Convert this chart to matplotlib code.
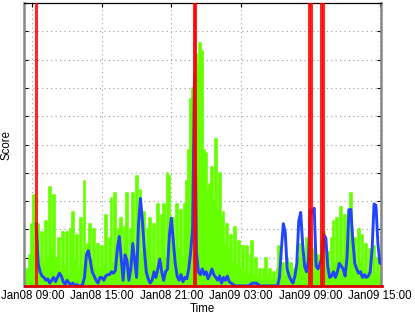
import numpy as np
import pandas as pd
import matplotlib
matplotlib.use("Agg")
import matplotlib.pyplot as plt
import matplotlib.dates as mdates

plt.rcParams['font.family'] = ['Liberation Sans', 'DejaVu Sans']

# 10-minute scores, Jan08 08:20 -> Jan09 15:10
green_start = "2014-01-08 08:20"
green_scores = [
    0.5, 0.6, 0.3, 1.1, 2.2, 3.2, 1.2, 2.2, 0.9, 1.9,
    0.8, 2.3, 1.0, 3.5, 1.3, 3.2, 1.0, 0.7, 1.7, 0.5,
    1.9, 0.7, 1.9, 0.4, 2.0, 2.6, 0.9, 1.8, 0.6, 2.4,
    0.7, 3.7, 0.8, 1.5, 2.2, 0.9, 2.0, 0.6, 1.5, 0.6,
    1.4, 0.7, 2.5, 0.6, 1.7, 3.1, 0.8, 3.3, 0.9, 2.0,
    2.4, 0.8, 2.1, 3.3, 1.0, 2.0, 3.3, 1.1, 3.9, 1.5,
    3.4, 1.2, 2.6, 1.3, 2.0, 2.4, 0.8, 2.2, 0.7, 2.9,
    1.0, 2.5, 2.9, 1.0, 4.0, 3.9, 1.6, 2.4, 1.2, 2.9,
    1.3, 2.7, 1.0, 2.9, 3.7, 4.8, 6.6, 7.0, 7.6, 8.2,
    7.8, 8.6, 8.3, 4.8, 4.7, 3.4, 3.6, 4.2, 3.0, 5.2,
    2.6, 4.0, 2.4, 2.6, 1.5, 2.2, 1.3, 1.8, 0.8, 2.1,
    0.7, 1.6, 0.6, 1.4, 0.5, 1.4, 0.4, 1.1, 1.6, 0.4,
    1.0, 0.3, 0.6, 0.2, 0.6, 1.0, 0.3, 0.6, 0.2, 0.5,
    0.2, 0.6, 1.4, 0.4, 0.8, 0.3, 1.0, 0.2, 0.8, 0.3,
    0.6, 0.7, 1.0, 1.5, 0.7, 1.0, 1.7, 1.5, 2.0, 1.3,
    1.2, 0.5, 1.1, 0.5, 1.6, 1.9, 0.6, 1.2, 0.6, 1.7,
    2.3, 0.8, 2.4, 0.8, 2.8, 1.0, 2.5, 0.9, 2.7, 3.3,
    1.0, 1.7, 0.7, 2.0, 0.8, 1.8, 0.6, 1.5, 0.5, 1.3,
    0.5, 1.4, 0.4, 1.0, 0.4, 0.8,
]

blue_start = "2014-01-08 09:20"
blue_scores = [
    2.2, 0.8, 0.5, 0.35, 0.3, 0.2, 0.25, 0.1, 0.2, 0.3,
    0.15, 0.3, 0.45, 0.35, 0.15, 0.05, 0.2, 0.1, 0.05, 0.1,
    0.0, 0.05, 0.0, 0.0, 0.05, 0.3, 1.1, 1.25, 0.9, 0.5,
    0.35, 0.2, 0.1, 0.3, 0.3, 0.2, 0.35, 0.4, 0.4, 0.5,
    0.45, 0.55, 1.3, 1.75, 1.0, 0.2, 1.1, 0.9, 0.2, 0.6,
    1.5, 0.9, 0.3, 2.2, 3.1, 2.3, 1.3, 0.5, 0.25, 0.1,
    0.2, 0.5, 0.3, 0.6, 0.95, 0.5, 0.2, 0.5, 0.6, 1.8,
    2.4, 1.6, 0.8, 0.35, 0.2, 0.4, 0.15, 0.3, 0.25, 0.6,
    1.2, 2.0, 7.4, 1.2, 0.5, 0.4, 0.6, 0.4, 0.5, 0.25,
    0.4, 0.6, 0.4, 0.3, 0.2, 0.35, 0.1, 0.3, 0.2, 0.35,
    0.15, 0.1, 0.05, 0.0, 0.0, 0.0, 0.0, 0.0, 0.0, 0.0,
    0.0, 0.05, 0.1, 0.1, 0.1, 0.05, 0.0, 0.0, 0.0, 0.0,
    0.0, 0.0, 0.0, 0.0, 0.0, 0.0, 0.3, 1.3, 2.2, 1.9,
    0.6, 0.35, 0.2, 0.1, 0.35, 0.8, 2.3, 2.6, 1.5, 0.7,
    0.5, 0.9, 2.7, 2.6, 2.75, 0.7, 0.6, 0.8, 1.0, 1.8,
    1.7, 0.7, 0.3, 0.35, 0.5, 0.3, 0.5, 0.8, 0.7, 0.6,
    0.35, 1.0, 2.7, 2.7, 1.6, 0.8, 0.6, 0.45, 0.5, 0.3,
    0.4, 0.3, 0.35, 0.5, 1.3, 2.9, 2.85, 1.5, 0.8, 0.8,
]

anomaly_times = [
    "2014-01-08 09:19", "2014-01-08 22:55", "2014-01-08 23:05",
    "2014-01-09 08:55", "2014-01-09 09:05", "2014-01-09 09:55",
    "2014-01-09 10:08",
]

t_green = pd.date_range(green_start, periods=len(green_scores), freq="10min")
t_blue = pd.date_range(blue_start, periods=len(blue_scores), freq="10min")
t_anom = pd.to_datetime(anomaly_times)

fig = plt.figure(figsize=(4.15, 3.22), dpi=100)
ax = fig.add_axes([0.058, 0.112, 0.861, 0.878])

ax.fill_between(t_green, 0, green_scores, step="mid", color="#66ff00",
                lw=0, zorder=2)
ax.step(t_green, green_scores, where="mid", color="#66ff00", lw=1.2, zorder=2)
ax.plot(t_blue, blue_scores, color="#2244ff", lw=2.1, zorder=3)
for ta in t_anom:
    ax.axvline(ta, color="#ff0000", lw=2.2, alpha=0.85, zorder=4)
ax.plot(t_green, np.zeros(len(t_green)), color="#dd0000", lw=2.0, zorder=4,
        clip_on=False)

ax.set_xlim(pd.Timestamp("2014-01-08 08:17"), pd.Timestamp("2014-01-09 15:08"))
ax.set_ylim(0, 10)
ax.set_yticks(np.arange(0, 11, 1))
ax.set_yticklabels([])
ax.xaxis.set_major_locator(mdates.HourLocator(byhour=[3, 9, 15, 21]))
ax.xaxis.set_major_formatter(mdates.DateFormatter("%b%d %H:%M"))

ax.grid(True, color="#999999", lw=0.8, linestyle=(0, (1, 3)))
ax.tick_params(direction="in", length=3, width=0.8, top=True, right=True,
               labelsize=8.3, pad=3)
for side in ["left", "right"]:
    ax.spines[side].set_color("#888888")
    ax.spines[side].set_linewidth(1.8)
ax.spines["top"].set_linewidth(0.9)

ax.set_xlabel("Time", fontsize=8.3, labelpad=1)
ax.set_ylabel("Score", fontsize=8.3, labelpad=5)

fig.savefig("out.png", dpi=100)
